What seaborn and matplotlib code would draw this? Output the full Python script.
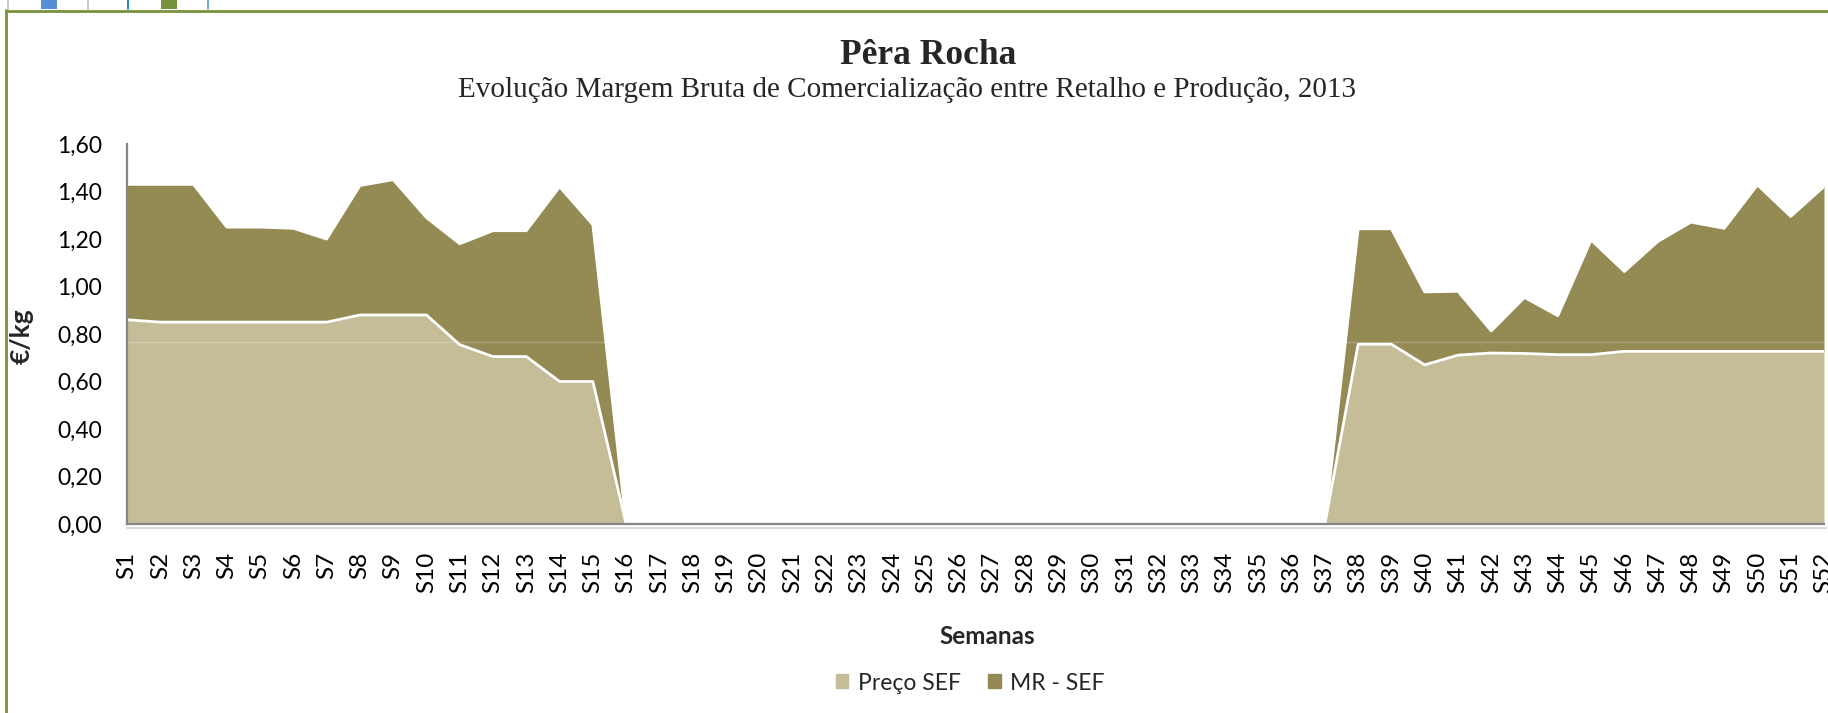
import numpy as np
import pandas as pd
import seaborn as sns
import matplotlib.pyplot as plt
from matplotlib.patches import Patch, Rectangle
from matplotlib.lines import Line2D

sns.set_theme(style="white")
plt.rcParams['font.family'] = ['Lato', 'DejaVu Sans']

semanas = ["S%d" % i for i in range(1, 53)]

# Preço SEF (€/kg)
preco = [0.86, 0.85, 0.85, 0.85, 0.85, 0.85, 0.85, 0.88, 0.88, 0.88,
         0.755, 0.705, 0.705, 0.60, 0.60, 0, 0, 0, 0, 0,
         0, 0, 0, 0, 0, 0, 0, 0, 0, 0,
         0, 0, 0, 0, 0, 0, 0, 0.757, 0.757, 0.67,
         0.711, 0.72, 0.718, 0.713, 0.713, 0.727, 0.727, 0.727, 0.727, 0.727,
         0.727, 0.727]
# MR - SEF (€/kg), stacked on top of Preço SEF
mr = [0.57, 0.58, 0.58, 0.40, 0.40, 0.395, 0.35, 0.545, 0.57, 0.41,
      0.425, 0.53, 0.53, 0.82, 0.66, 0, 0, 0, 0, 0,
      0, 0, 0, 0, 0, 0, 0, 0, 0, 0,
      0, 0, 0, 0, 0, 0, 0, 0.486, 0.486, 0.307,
      0.269, 0.093, 0.236, 0.164, 0.483, 0.336, 0.462, 0.544, 0.518, 0.701,
      0.568, 0.694]

df = pd.DataFrame({"semana": semanas, "Preço SEF": preco, "MR - SEF": mr})
df["pos"] = np.arange(len(df))
df["total"] = df["Preço SEF"] + df["MR - SEF"]

c_light = "#C4BD97"
c_dark = "#948A54"
c_border = "#77933C"
W, H = 1828, 713

fig = plt.figure(figsize=(W / 100, H / 100), dpi=100)
ax = fig.add_axes([127 / W, 1 - 524 / H, (1824 - 127) / W, (524 - 144) / H])

ax.fill_between(df["pos"], 0, df["Preço SEF"], color=c_light, lw=0, zorder=1)
ax.fill_between(df["pos"], df["Preço SEF"], df["total"], color=c_dark, lw=0, zorder=1)
ax.axhline(0.765, color="white", alpha=0.22, lw=1, zorder=1.5)
sns.lineplot(data=df, x="pos", y="Preço SEF", color="white", lw=2, ax=ax, zorder=2)
sns.lineplot(data=df, x="pos", y="total", color="white", lw=2, ax=ax, zorder=2)

ax.set_xlim(0, 51)
ax.set_ylim(0, 1.6)
ax.set_xticks(df["pos"])
ax.set_xticklabels(df["semana"], rotation=90, fontsize=17.5)
yt = np.arange(0, 1.61, 0.2)
ax.set_yticks(yt)
ax.set_yticklabels([f"{v:.2f}".replace(".", ",") for v in yt], fontsize=16.5)
ax.tick_params(axis="x", length=0, pad=20, colors="black")
ax.tick_params(axis="y", length=0, pad=18, colors="black")
ax.set_xlabel("")
ax.set_ylabel("")

for s in ["top", "right"]:
    ax.spines[s].set_visible(False)
for s in ["left", "bottom"]:
    ax.spines[s].set_color("#868686")
    ax.spines[s].set_linewidth(1.6)
ax.spines["left"].set_zorder(3)
ax.spines["bottom"].set_zorder(3)
ax.patch.set_alpha(0)
ax.grid(False)

# light shadow under plot area
fig.add_artist(Line2D([127 / W, 1826 / W], [1 - 528 / H, 1 - 528 / H],
                      color="#D9D9D9", lw=1.5, transform=fig.transFigure))

fig.text(928 / W, 1 - 64 / H, "Pêra Rocha", ha="center", va="baseline",
         fontsize=25.5, fontweight="bold", family=["Liberation Serif", "DejaVu Serif"])
fig.text(907 / W, 1 - 97 / H,
         "Evolução Margem Bruta de Comercialização entre Retalho e Produção, 2013",
         ha="center", va="baseline", fontsize=21,
         family=["Liberation Serif", "DejaVu Serif"])
fig.text(987 / W, 1 - 636 / H, "Semanas", ha="center", va="center",
         fontsize=17.5, fontweight="bold")
fig.text(22 / W, 1 - 336 / H, "€/kg", ha="center", va="center", rotation=90,
         fontsize=19, fontweight="bold")

handles = [Patch(color=c_light, label="Preço SEF"), Patch(color=c_dark, label="MR - SEF")]
fig.legend(handles=handles, loc="center", bbox_to_anchor=(970 / W, 1 - 683 / H),
           ncol=2, frameon=False, fontsize=16.5, handlelength=0.55, handleheight=0.55,
           handletextpad=0.4, columnspacing=1.2)

# outer green frame
fig.add_artist(Line2D([6 / W, 6 / W], [0, 1 - 10 / H], color=c_border, lw=2,
                      transform=fig.transFigure))
fig.add_artist(Line2D([6 / W, 1], [1 - 11 / H, 1 - 11 / H], color=c_border, lw=2,
                      transform=fig.transFigure))

# sheet cells above the frame
def cell(x0, x1, color):
    fig.add_artist(Rectangle((x0 / W, 1 - 9 / H), (x1 - x0) / W, 9 / H,
                             color=color, transform=fig.transFigure, lw=0))

cell(41, 57, "#558ED5")
cell(161, 177, c_border)
for xv, col in [(8, "#BFBFBF"), (88, "#BFBFBF"), (128, "#0070C0"), (208, "#5B9BD5")]:
    fig.add_artist(Line2D([xv / W, xv / W], [1 - 9 / H, 1], color=col, lw=1.2,
                          transform=fig.transFigure))

fig.savefig("out.png", dpi=100)
